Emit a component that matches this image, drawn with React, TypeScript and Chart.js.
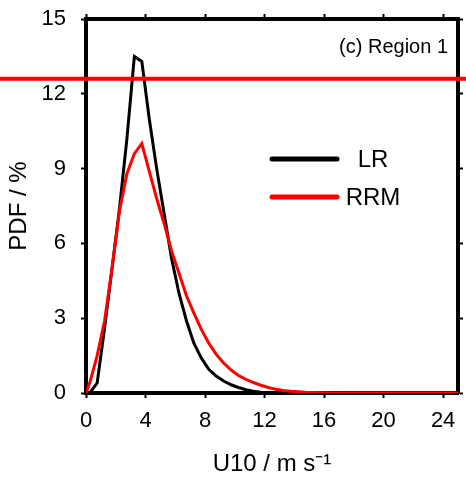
import React, { useEffect, useRef } from "react";
import { Chart, registerables } from "chart.js";

Chart.register(...registerables);

const FONT = "'Liberation Sans', Arial, Helvetica, sans-serif";

// Wind speed bin centres (m/s)
const lrSpeed = [0.25, 0.75, 1.25, 1.75, 2.25, 2.75, 3.25, 3.75, 4.25, 4.75, 5.25, 5.75, 6.25, 6.75, 7.25, 7.75, 8.25, 8.75, 9.25, 9.75, 10.25, 10.75, 11.25, 11.75, 12.25, 13, 16, 25];
const lrPdf = [0, 0.4, 2.6, 5.0, 7.4, 10.2, 13.5, 13.3, 11.0, 9.0, 7.2, 5.4, 4.0, 2.9, 2.0, 1.4, 0.95, 0.68, 0.48, 0.33, 0.22, 0.13, 0.07, 0.03, 0.01, 0, 0, 0];

const rrmSpeed = [0.0, 0.25, 0.75, 1.25, 1.75, 2.25, 2.75, 3.25, 3.75, 4.25, 4.75, 5.25, 5.75, 6.25, 6.75, 7.25, 7.75, 8.25, 8.75, 9.25, 9.75, 10.25, 10.75, 11.25, 11.75, 12.25, 12.75, 13.25, 13.75, 14.25, 14.75, 15.25, 15.75, 16.25, 20, 25];
const rrmPdf = [0, 0.4, 1.5, 2.9, 5.0, 7.3, 8.8, 9.6, 10.0, 8.9, 7.8, 6.8, 5.7, 4.8, 3.9, 3.2, 2.55, 2.0, 1.55, 1.2, 0.92, 0.7, 0.55, 0.42, 0.31, 0.22, 0.15, 0.1, 0.07, 0.05, 0.03, 0.02, 0.01, 0, 0, 0];

const xTicks = [0, 4, 8, 12, 16, 20, 24];
const yTicks = [0, 3, 6, 9, 12, 15];
const refLineValue = 12.6;
const panelLabel = "(c) Region 1";
const seriesNames = ["LR", "RRM"];
const seriesColors = ["#000000", "#ff0000"];

export default function App() {
  const ref = useRef<HTMLCanvasElement | null>(null);

  useEffect(() => {
    document.body.style.margin = "0";
    const canvas = ref.current;
    if (!canvas) return;

    const fixTicks = (vals: number[]) => (s: any) => {
      s.ticks = vals.map((v) => ({ value: v }));
    };
    const fitTo = (key: "width" | "height", size: number) => (s: any) => {
      s[key] = size;
      s.paddingTop = 0;
      s.paddingBottom = 0;
      s.paddingLeft = 0;
      s.paddingRight = 0;
    };

    const frame = {
      display: true,
      drawOnChartArea: false,
      drawTicks: true,
      tickLength: 5,
      tickWidth: 2,
      tickColor: "#000",
    };
    const border = { display: true, width: 4, color: "#000" };

    const overlay = {
      id: "overlay",
      afterDraw(chart: any) {
        const ctx = chart.ctx;
        const { chartArea } = chart;
        const y = chart.scales.y;
        ctx.save();
        // panel label
        ctx.fillStyle = "#000";
        ctx.font = `20px ${FONT}`;
        ctx.textAlign = "right";
        ctx.textBaseline = "middle";
        ctx.fillText(panelLabel, chartArea.right - 10, chartArea.top + 28);
        // legend
        const ly = [159, 197];
        seriesNames.forEach((name, i) => {
          ctx.strokeStyle = seriesColors[i];
          ctx.lineWidth = 5;
          ctx.lineCap = "round";
          ctx.beginPath();
          ctx.moveTo(272, ly[i]);
          ctx.lineTo(337, ly[i]);
          ctx.stroke();
          ctx.fillStyle = "#000";
          ctx.font = `24px ${FONT}`;
          ctx.textAlign = "center";
          ctx.textBaseline = "middle";
          ctx.fillText(name, 373, ly[i] + 1);
        });
        // red reference line across whole width
        const py = y.getPixelForValue(refLineValue);
        ctx.strokeStyle = "#ff0000";
        ctx.lineWidth = 4;
        ctx.lineCap = "butt";
        ctx.beginPath();
        ctx.moveTo(0, py);
        ctx.lineTo(chart.width, py);
        ctx.stroke();
        ctx.restore();
      },
    };

    const chart = new Chart(canvas, {
      type: "line",
      data: {
        datasets: [
          {
            label: seriesNames[0],
            data: lrSpeed.map((x, i) => ({ x, y: lrPdf[i] })),
            borderColor: seriesColors[0],
            borderWidth: 3,
            pointRadius: 0,
            tension: 0,
            fill: false,
            order: 1,
          },
          {
            label: seriesNames[1],
            data: rrmSpeed.map((x, i) => ({ x, y: rrmPdf[i] })),
            borderColor: seriesColors[1],
            borderWidth: 3,
            pointRadius: 0,
            tension: 0,
            fill: false,
            order: 0,
          },
        ],
      },
      options: {
        responsive: false,
        animation: false,
        layout: { padding: 0 },
        plugins: { legend: { display: false }, tooltip: { enabled: false } },
        scales: {
          x: {
            type: "linear",
            position: "bottom",
            min: 0,
            max: 25,
            afterBuildTicks: fixTicks(xTicks),
            afterFit: fitTo("height", 94),
            grid: frame,
            border,
            ticks: {
              color: "#000",
              font: { family: FONT, size: 22 },
              padding: 10,
              maxRotation: 0,
              autoSkip: false,
            },
            title: {
              display: true,
              text: "U10 / m s\u207B\u00B9",
              color: "#000",
              font: { family: FONT, size: 24 },
              padding: { top: 0, bottom: 8 },
            },
          },
          x2: {
            type: "linear",
            position: "top",
            min: 0,
            max: 25,
            afterBuildTicks: fixTicks(xTicks),
            afterFit: fitTo("height", 19),
            grid: frame,
            border,
            ticks: { display: false },
          },
          y: {
            type: "linear",
            position: "left",
            min: 0,
            max: 15,
            afterBuildTicks: fixTicks(yTicks),
            afterFit: fitTo("width", 86),
            grid: frame,
            border,
            ticks: {
              color: "#000",
              font: { family: FONT, size: 22 },
              padding: 15,
              autoSkip: false,
            },
            title: {
              display: true,
              text: "PDF / %",
              color: "#000",
              font: { family: FONT, size: 24 },
              padding: { top: 5, bottom: 0 },
            },
          },
          y2: {
            type: "linear",
            position: "right",
            min: 0,
            max: 15,
            afterBuildTicks: fixTicks(yTicks),
            afterFit: fitTo("width", 8),
            grid: frame,
            border,
            ticks: { display: false },
          },
        },
      },
      plugins: [overlay],
    } as any);

    return () => chart.destroy();
  }, []);

  return (
    <div style={{ width: 466, height: 487, position: "relative" }}>
      <canvas ref={ref} width={466} height={487} />
    </div>
  );
}
